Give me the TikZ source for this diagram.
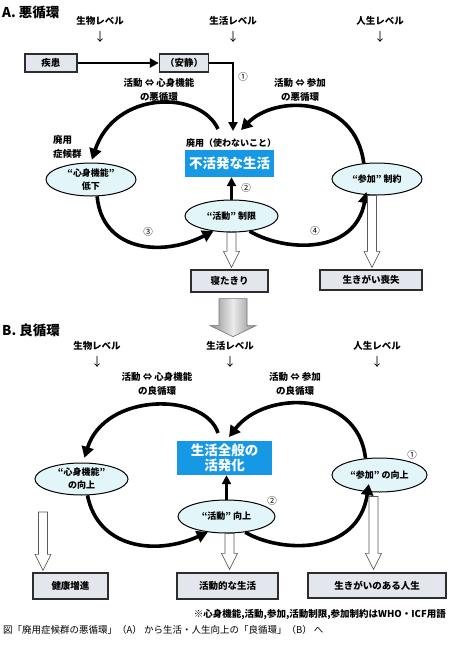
\documentclass[tikz,border=0pt]{standalone}
\usepackage{fontspec}
\setmainfont{Noto Sans CJK JP}
\usetikzlibrary{arrows.meta,calc,shapes.geometric}
\definecolor{bluebox}{RGB}{22,152,228}
\definecolor{ellfill}{RGB}{226,246,250}
\definecolor{boxfill}{RGB}{228,230,237}
\definecolor{boxline}{RGB}{45,45,45}
\newcommand\hollowarrow[2]{%
  \path[hol] let \p1=(#1), \p2=(#2) in
    (\x1-4.5pt,\y1) -- (\x1+4.5pt,\y1) -- (\x1+4.5pt,\y2+16pt) -- (\x1+8pt,\y2+16pt)
    -- (\x1,\y2) -- (\x1-8pt,\y2+16pt) -- (\x1-4.5pt,\y2+16pt) -- cycle;}
\begin{document}
\begin{tikzpicture}[x=1pt,y=-1pt,
  lvl/.style={font=\fontsize{9.5}{14}\selectfont\bfseries, inner sep=0pt, align=center},
  ttl/.style={font=\fontsize{13.5}{16}\selectfont\bfseries, inner sep=0pt, anchor=west},
  dn/.style={font=\fontsize{12}{12}\selectfont, inner sep=0pt},
  num/.style={font=\fontsize{9.5}{10}\selectfont, inner sep=0pt},
  box/.style={draw=boxline, line width=1.3pt, fill=boxfill, inner sep=0pt,
    font=\fontsize{9.5}{11}\selectfont\bfseries},
  bluenode/.style={fill=bluebox, text=white, inner sep=0pt, align=center,
    font=\fontsize{13.5}{15}\selectfont\bfseries},
  ell/.style={ellipse, draw, line width=1pt, fill=ellfill, inner sep=0pt, align=center,
    font=\fontsize{9}{13}\selectfont\bfseries},
  thk/.style={line width=2.6pt, -{Triangle[length=9pt,width=9pt]}},
  crv/.style={line width=3.6pt, -{Triangle[length=11pt,width=12pt]}},
  hol/.style={draw=black!65, line width=0.6pt, fill=white},
]
\useasboundingbox[fill=white] (0,0) rectangle (450,649);

% ================= A =================
\node[ttl] (tA) at (2,12) {A. 悪循環};
\node[lvl] (lA1) at (100,21) {生物レベル};
\node[lvl] (lA2) at (233,21) {生活レベル};
\node[lvl] (lA3) at (380,21) {人生レベル};
\node[dn] (dA1) at (100,37) {↓};
\node[dn] (dA2) at (233,37) {↓};
\node[dn] (dA3) at (380,37) {↓};

\node[box, minimum width=52, minimum height=18] (bA1) at (51,63) {疾患};
\node[box, minimum width=49, minimum height=18] (bA2) at (184,63) {（安静）};
\coordinate (tgA) at (233,131);
\draw[thk] (bA1) -- (bA2);
\draw[thk, line width=2.4pt] (bA2.east) -| (tgA);
\node[num] (n1A) at (243,77) {①};

\node[lvl] (cA1) at (159,90) {活動 ⇔ 心身機能\\の悪循環};
\node[lvl] (cA2) at (300,90) {活動 ⇔ 参加\\の悪循環};
\node[lvl, align=left, anchor=west] (hsA) at (53,147) {廃用\\症候群};

\node[lvl, font=\fontsize{9}{11}\selectfont\bfseries] (hyA) at (231,143) {廃用（使わないこと）};
\node[bluenode, minimum width=89, minimum height=27] (bbA) at (229.5,163.5) {不活発な生活};

\node[ell, minimum width=90, minimum height=33] (eA1) at (91,179.5) {“心身機能”\\低下};
\node[ell, minimum width=93, minimum height=32] (eA2) at (231.5,216) {“活動” 制限};
\node[ell, minimum width=90, minimum height=32] (eA3) at (377,179) {“参加” 制約};

\coordinate (sA1) at (218,129);
\coordinate (tA2) at (241,130);
\draw[crv, shorten >=3pt] (sA1) .. controls (200,90) and (115,90) .. (eA1.north);
\draw[crv] (eA3.130) .. controls (355,95) and (275,95) .. (tA2);
\draw[crv] (eA1.-70) .. controls (102,250) and (160,258) .. (eA2.-140);
\draw[crv, shorten >=-3pt] (eA2.-40) .. controls (285,252) and (355,255) .. (eA3.-125);
\draw[thk, line width=2.8pt] (eA2.north) -- (eA2.north |- bbA.south);
\node[num] (n2A) at (246,188) {②};
\node[num] (n3A) at (148,232) {③};
\node[num] (n4A) at (315,231) {④};

\node[box, minimum width=77, minimum height=22] (bA3) at (229.5,281) {寝たきり};
\node[box, minimum width=102, minimum height=20] (bA4) at (371,280) {生きがい喪失};
\hollowarrow{eA2.south}{$(eA2.south |- bA3.north)+(0,-2)$}
\hollowarrow{$(eA3.south)+(-5,0)$}{$(eA3.south |- bA4.north)+(-5,-2)$}

% big block arrow
\path[draw=black!55, line width=0.6pt, left color=black!45, right color=black!45, middle color=black!8]
  let \p1=(bA3.south) in
  (\x1-14pt+3.5pt,\y1-6pt) -- (\x1+14pt+3.5pt,\y1-6pt) -- (\x1+14pt+3.5pt,\y1-33pt)
  -- (\x1+23pt+3.5pt,\y1-33pt) -- (\x1+3.5pt,\y1-44pt) -- (\x1-23pt+3.5pt,\y1-33pt)
  -- (\x1-14pt+3.5pt,\y1-33pt) -- cycle;

% ================= B =================
\node[ttl] (tB) at (2,330) {B. 良循環};
\node[lvl] (lB1) at (97,346) {生物レベル};
\node[lvl] (lB2) at (230,346) {生活レベル};
\node[lvl] (lB3) at (377,346) {人生レベル};
\node[dn] (dB1) at (97,362) {↓};
\node[dn] (dB2) at (230,362) {↓};
\node[dn] (dB3) at (377,362) {↓};

\node[lvl] (cB1) at (157,384) {活動 ⇔ 心身機能\\の良循環};
\node[lvl] (cB2) at (295,384) {活動 ⇔ 参加\\の良循環};

\node[bluenode, minimum width=95, minimum height=34] (bbB) at (224.5,458) {生活全般の\\活発化};

\node[ell, minimum width=93, minimum height=32] (eB1) at (81.5,479) {“心身機能”\\の向上};
\node[ell, minimum width=97, minimum height=33] (eB2) at (226.5,516.5) {“活動” 向上};
\node[ell, minimum width=95, minimum height=34] (eB3) at (379.5,475) {“参加” の向上};

\coordinate (sB1) at (218,433);
\coordinate (tB2) at (229,437);
\draw[crv, shorten >=5pt] (sB1) .. controls (205,392) and (105,392) .. (eB1.85);
\draw[crv] (eB3.130) .. controls (358,390) and (265,390) .. (tB2);
\draw[crv] (eB1.-70) .. controls (98,548) and (155,556) .. (eB2.-140);
\draw[crv, shorten >=-8pt] (eB2.-40) .. controls (280,553) and (358,556) .. (eB3.-125);
\draw[thk, line width=2.8pt] (eB2.north) -- (eB2.north |- bbB.south);
\node[num] (n1B) at (412,455) {①};
\node[num] (n2B) at (272,501) {②};

\node[box, minimum width=75, minimum height=26] (bB1) at (70.5,586) {健康増進};
\node[box, minimum width=101, minimum height=26] (bB2) at (227.5,586) {活動的な生活};
\node[box, minimum width=138, minimum height=25] (bB3) at (377,585.5) {生きがいのある人生};
\coordinate (hB1) at (43,512);
\hollowarrow{hB1}{$(hB1 |- bB1.north)+(0,-2)$}
\hollowarrow{$(eB2.south)+(3,0)$}{$(eB2.south |- bB2.north)+(3,-3)$}
\hollowarrow{$(eB3.south)+(-6,4)$}{$(eB3.south |- bB3.north)+(-6,-3)$}

\node[lvl, anchor=east, font=\fontsize{9.5}{11}\selectfont\bfseries] (note) at (446,614)
  {※心身機能,活動,参加,活動制限,参加制約はWHO・ICF用語};
\node[anchor=west, inner sep=0pt, font=\fontsize{9.5}{11}\selectfont] (cap) at (3,630)
  {図「廃用症候群の悪循環」（A） から生活・人生向上の「良循環」（B） へ};
\end{tikzpicture}
\end{document}
